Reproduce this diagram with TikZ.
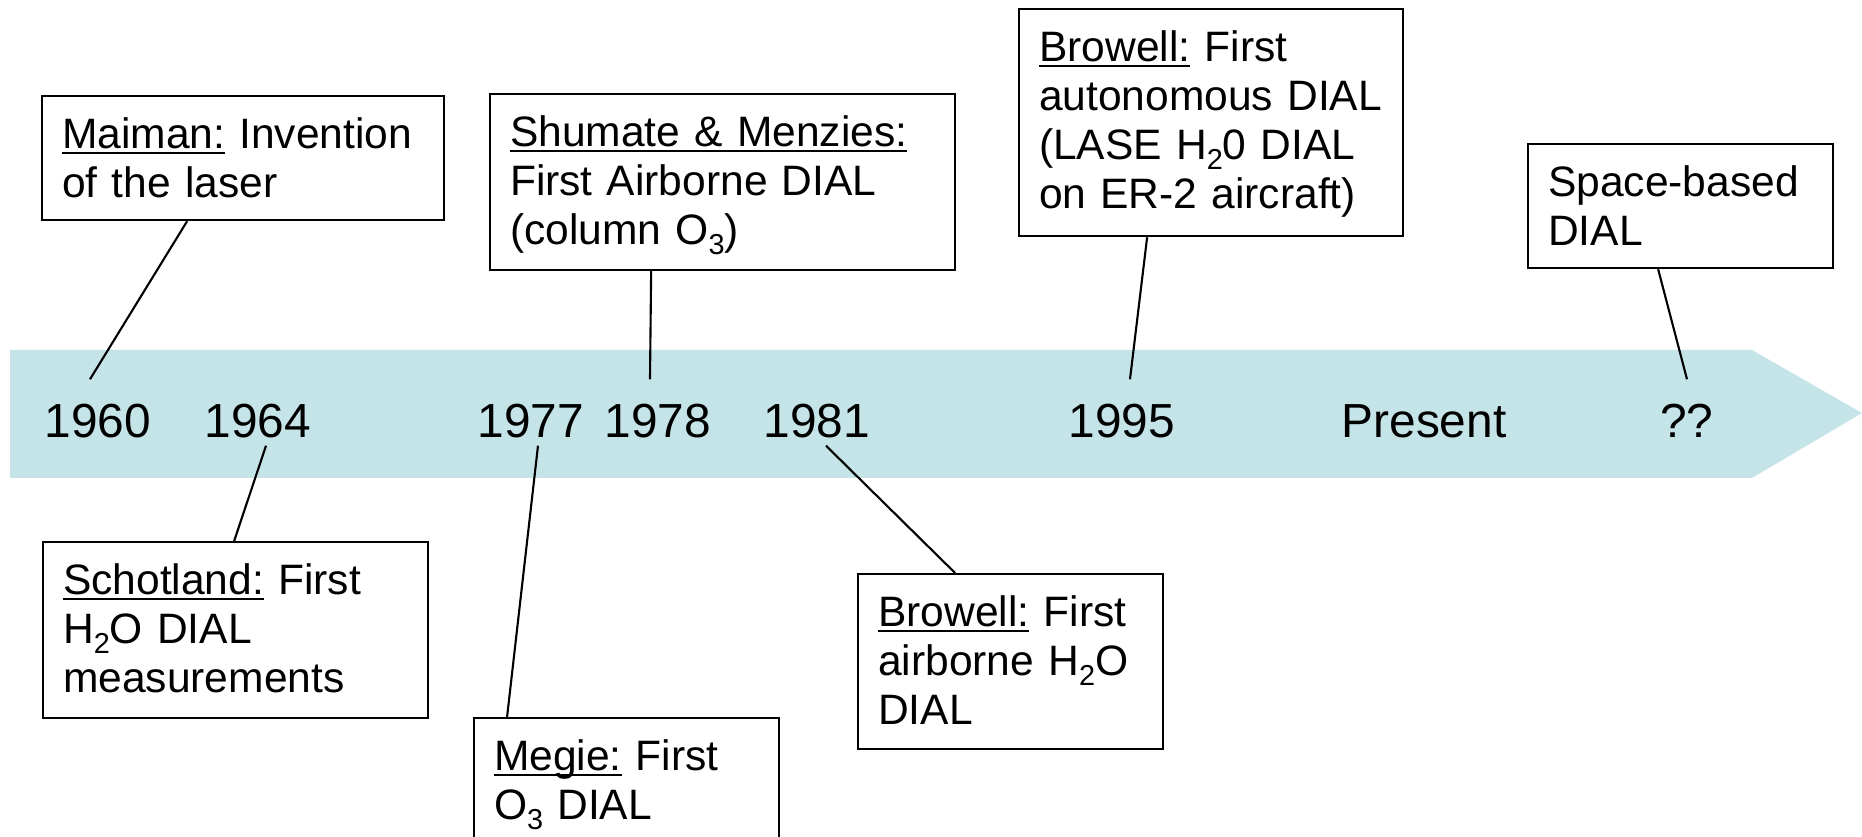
\documentclass[tikz,border=0pt]{standalone}
\usepackage{fontspec}
\setmainfont{Liberation Sans}
\usepackage{xcolor}
\definecolor{bandcyan}{HTML}{C4E4E8}
\usepackage{tikz}

\newcommand{\who}[1]{\underline{\smash{#1}}}
\newcommand{\chemsub}[1]{\raisebox{-0.1cm}{\fontsize{8.2}{8.2}\selectfont #1}}

\begin{document}
\begin{tikzpicture}[x=0.01cm, y=-0.01cm,
  yearlbl/.style={
    anchor=base, inner sep=0pt,
    text height=0.58cm, text depth=0.07cm,
    font=\fontsize{13.6}{16}\selectfont
  },
  event/.style={
    draw=black, fill=white, line width=0.6pt,
    anchor=north west, align=left,
    inner xsep=0.2cm, inner ysep=0.21cm,
    text height=0.31cm, text depth=#1,
    font=\fontsize{12.1}{13.95}\selectfont
  },
  event/.default=0.51cm,
  link/.style={black, line width=0.6pt}
]
% ── Frame ─────────────────────────────────────────────────────
\useasboundingbox (0,0) rectangle (1862,837);
\clip (0,0) rectangle (1862,837);
\fill[white] (0,0) rectangle (1862,837);

% ── Time band ────────────────────────────────────────────────
\fill[bandcyan] (10,350) -- (1752,350) -- (1862,413) -- (1752,478)
  -- (10,478) -- cycle;

% ── Years on the band ────────────────────────────────────────
\node[yearlbl] (y1960) at (98,438)   {1960};
\node[yearlbl] (y1964) at (258,438)  {1964};
\node[yearlbl] (y1977) at (531,438)  {1977};
\node[yearlbl] (y1978) at (658,438)  {1978};
\node[yearlbl] (y1981) at (817,438)  {1981};
\node[yearlbl] (y1995) at (1122,438) {1995};
\node[yearlbl] (ynow)  at (1424,438) {Present};
\node[yearlbl] (yq)    at (1687,438) {??};

% ── Events above the band ────────────────────────────────────
\node[event=0.51cm, text width=3.62cm] (maiman) at (41,95)
  {\who{Maiman:} Invention\\ of the laser};
\node[event=1.03cm, text width=4.25cm] (shumate) at (489,93)
  {\who{Shumate \& Menzies:}\\ First Airborne DIAL\\ (column O\chemsub{3})};
\node[event=1.54cm, text width=3.44cm] (browellA) at (1018,8)
  {\who{Browell:} First\\ autonomous DIAL\\ (LASE H\chemsub{2}0 DIAL\\ on ER-2 aircraft)};
\node[event=0.51cm, text width=2.65cm] (space) at (1527,143)
  {Space-based\\ DIAL};

% ── Events below the band ────────────────────────────────────
\node[event=1.03cm, text width=3.45cm] (schotland) at (42,541)
  {\who{Schotland:} First\\ H\chemsub{2}O DIAL\\ measurements};
\node[event=0.51cm, text width=2.65cm] (megie) at (473,717)
  {\who{Megie:} First\\ O\chemsub{3} DIAL};
\node[event=1.02cm, text width=2.65cm] (browellB) at (857,573)
  {\who{Browell:} First\\ airborne H\chemsub{2}O\\ DIAL};

% ── Pointers ─────────────────────────────────────────────────
\draw[link] ([xshift=-0.56cm]maiman.south)    -- ([xshift=-0.08cm]y1960.north);
\draw[link] ([xshift=-0.715cm]shumate.south)  -- ([xshift=-0.08cm]y1978.north);
\draw[link] ([xshift=-0.64cm]browellA.south)  -- ([xshift=0.08cm]y1995.north);
\draw[link] ([xshift=-0.225cm]space.south)    -- (yq.north);
\draw[link] ([xshift=0.08cm]y1964.south) -- ([xshift=-0.015cm]schotland.north);
\draw[link] ([xshift=0.07cm]y1977.south) -- ([xshift=-1.195cm]megie.north);
\draw[link] ([xshift=0.09cm]y1981.south) -- ([xshift=-0.555cm]browellB.north);

\end{tikzpicture}
\end{document}
